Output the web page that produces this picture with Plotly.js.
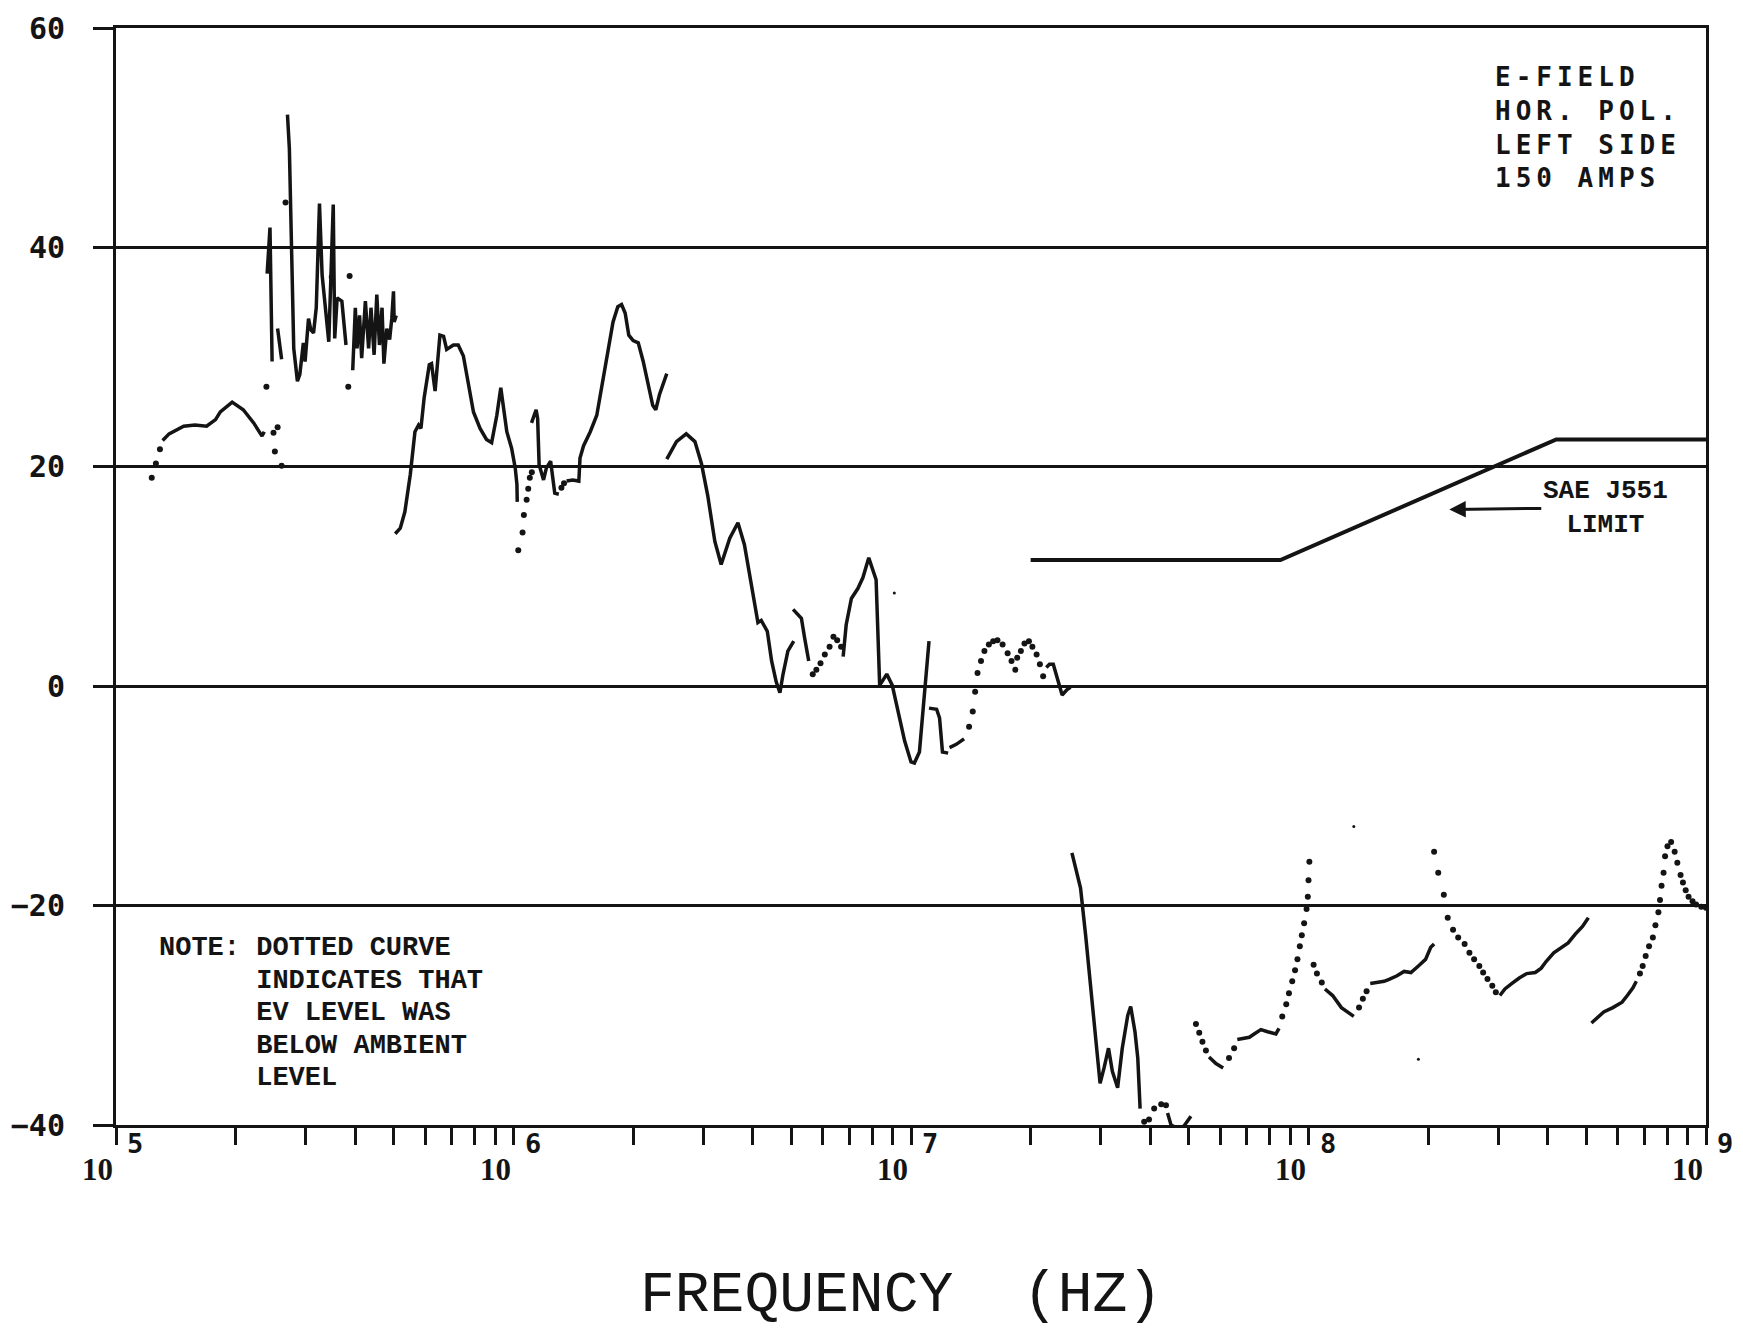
<!DOCTYPE html>
<html>
<head>
<meta charset="utf-8">
<script src="https://cdn.plot.ly/plotly-3.0.1.min.js"></script>
<style>
  html, body { margin: 0; padding: 0; background: #ffffff; }
  #chart { width: 1743px; height: 1332px; }
</style>
</head>
<body>
<div id="chart"></div>
<script>
// E-field emission sweep, horizontal polarisation, left side, 150 A.
// Frequencies in Hz, levels in dB. Solid runs are measured EV levels,
// dotted runs are readings that fell below the ambient level.

// ---- solid runs ----
const run01Hz = [1.31e5, 1.36e5, 1.48e5, 1.58e5, 1.69e5, 1.78e5, 1.83e5, 1.96e5, 2.09e5, 2.22e5, 2.33e5, 2.36e5];
const run01Db = [22.4, 23.0, 23.7, 23.8, 23.7, 24.3, 25.0, 25.9, 25.2, 24.0, 22.8, 23.2];
const run02Hz = [2.40e5, 2.44e5, 2.47e5];
const run02Db = [37.6, 41.8, 29.6];
const run03Hz = [2.55e5, 2.61e5];
const run03Db = [32.6, 29.8];
const run04Hz = [2.70e5, 2.73e5, 2.80e5, 2.86e5, 2.90e5, 2.96e5, 2.99e5, 3.05e5, 3.09e5, 3.14e5, 3.19e5, 3.25e5, 3.30e5, 3.43e5, 3.52e5, 3.55e5, 3.60e5, 3.70e5, 3.79e5];
const run04Db = [52.1, 49.0, 30.8, 27.8, 28.4, 31.3, 29.6, 33.5, 32.5, 32.2, 34.5, 44.0, 37.5, 31.4, 43.9, 31.7, 35.4, 35.1, 31.1];
const run05Hz = [3.94e5, 4.00e5, 4.04e5, 4.10e5, 4.15e5, 4.24e5, 4.32e5, 4.38e5, 4.46e5, 4.53e5, 4.60e5, 4.67e5, 4.72e5, 4.80e5, 4.88e5, 4.94e5, 4.99e5, 5.01e5, 5.07e5];
const run05Db = [28.8, 34.5, 30.8, 33.8, 29.9, 35.1, 30.8, 34.5, 30.2, 35.7, 31.1, 34.5, 29.4, 32.6, 31.6, 33.5, 36.0, 33.2, 33.8];
const run06Hz = [5.04e5, 5.19e5, 5.33e5, 5.50e5, 5.65e5, 5.77e5, 5.85e5, 5.96e5, 6.14e5, 6.22e5, 6.35e5, 6.43e5, 6.53e5, 6.67e5, 6.79e5, 7.06e5, 7.26e5, 7.48e5, 7.69e5, 7.93e5, 8.24e5, 8.55e5, 8.81e5, 9.08e5, 9.29e5, 9.46e5, 9.62e5, 9.89e5, 1.01e6, 1.02e6, 1.022e6];
const run06Db = [13.9, 14.4, 15.9, 19.3, 23.2, 23.8, 23.5, 26.3, 29.3, 29.4, 26.9, 29.3, 32.0, 31.9, 30.7, 31.1, 31.1, 30.1, 27.5, 25.0, 23.5, 22.5, 22.2, 24.7, 27.2, 25.0, 23.2, 21.7, 19.9, 18.4, 16.8];
const run07Hz = [1.11e6, 1.14e6, 1.15e6, 1.16e6, 1.19e6, 1.21e6, 1.24e6, 1.25e6, 1.27e6, 1.30e6];
const run07Db = [24.0, 25.2, 24.4, 20.2, 18.8, 19.9, 20.5, 19.6, 17.6, 17.5];
const run08Hz = [1.36e6, 1.41e6, 1.46e6, 1.47e6, 1.50e6, 1.56e6, 1.62e6, 1.68e6, 1.73e6, 1.78e6, 1.83e6, 1.87e6, 1.91e6, 1.95e6, 2.00e6, 2.06e6, 2.12e6, 2.18e6, 2.24e6, 2.28e6, 2.33e6, 2.43e6];
const run08Db = [18.7, 18.8, 18.7, 20.8, 21.9, 23.2, 24.7, 27.9, 30.8, 33.2, 34.6, 34.8, 34.0, 32.0, 31.5, 31.3, 29.6, 27.5, 25.6, 25.2, 26.6, 28.5];
const run09Hz = [2.43e6, 2.57e6, 2.72e6, 2.86e6, 2.97e6, 3.08e6, 3.21e6, 3.33e6, 3.50e6, 3.67e6, 3.81e6, 3.93e6, 4.01e6, 4.12e6, 4.20e6, 4.35e6, 4.46e6, 4.58e6, 4.68e6, 4.76e6, 4.90e6, 5.07e6];
const run09Db = [20.7, 22.3, 23.0, 22.3, 20.3, 17.4, 13.2, 11.1, 13.5, 14.9, 12.9, 10.2, 8.0, 5.8, 6.0, 5.0, 2.3, 0.4, -0.6, 1.0, 3.2, 4.1];
const run10Hz = [5.05e6, 5.30e6, 5.40e6, 5.53e6];
const run10Db = [7.0, 6.2, 4.4, 2.3];
const run11Hz = [6.75e6, 6.87e6, 7.08e6, 7.35e6, 7.57e6, 7.83e6, 8.17e6, 8.34e6, 8.45e6, 8.69e6, 8.97e6, 9.27e6, 9.64e6, 1.00e7, 1.02e7, 1.05e7, 1.07e7, 1.09e7, 1.11e7];
const run11Db = [2.7, 5.6, 8.0, 8.9, 9.9, 11.7, 9.7, 0.1, 0.4, 1.1, 0.1, -2.2, -5.0, -6.9, -7.0, -6.0, -2.6, 0.7, 4.1];
const run12Hz = [1.11e7, 1.16e7, 1.18e7, 1.20e7, 1.24e7];
const run12Db = [-2.0, -2.1, -2.9, -6.0, -6.1];
const run13Hz = [1.25e7, 1.30e7, 1.36e7];
const run13Db = [-5.6, -5.3, -4.8];
const run14Hz = [2.19e7, 2.23e7, 2.28e7, 2.32e7, 2.36e7, 2.40e7, 2.47e7, 2.52e7];
const run14Db = [1.7, 2.0, 2.0, 1.0, 0.1, -0.8, -0.3, -0.1];
const run15Hz = [2.54e7, 2.67e7, 2.75e7, 2.84e7, 2.92e7, 2.99e7, 3.06e7, 3.14e7, 3.21e7, 3.31e7, 3.40e7, 3.51e7, 3.57e7, 3.66e7, 3.72e7, 3.77e7];
const run15Db = [-15.2, -18.4, -22.7, -27.8, -32.7, -36.2, -34.8, -33.0, -35.1, -36.6, -33.0, -30.0, -29.2, -31.5, -33.9, -38.5];
const run16Hz = [4.42e7, 4.51e7, 4.68e7, 4.86e7, 5.06e7];
const run16Db = [-38.9, -40.0, -40.3, -40.1, -39.2];
const run17Hz = [5.62e7, 5.85e7, 6.10e7];
const run17Db = [-33.8, -34.4, -34.8];
const run18Hz = [6.62e7, 6.82e7, 7.10e7, 7.30e7, 7.59e7, 7.89e7, 8.28e7, 8.43e7];
const run18Db = [-32.2, -32.1, -32.0, -31.7, -31.3, -31.5, -31.7, -31.2];
const run19Hz = [1.10e8, 1.15e8, 1.21e8, 1.26e8, 1.30e8];
const run19Db = [-27.6, -28.2, -29.3, -29.8, -30.1];
const run20Hz = [1.43e8, 1.49e8, 1.55e8, 1.60e8, 1.67e8, 1.74e8, 1.81e8, 1.89e8, 1.97e8, 2.03e8, 2.07e8];
const run20Db = [-27.1, -27.0, -26.9, -26.7, -26.4, -26.0, -26.1, -25.5, -24.9, -23.8, -23.5];
const run21Hz = [3.03e8, 3.12e8, 3.25e8, 3.39e8, 3.54e8, 3.72e8, 3.85e8, 3.96e8, 4.14e8, 4.32e8, 4.50e8, 4.69e8, 4.89e8, 5.06e8];
const run21Db = [-28.2, -27.6, -27.1, -26.6, -26.2, -26.1, -25.7, -25.1, -24.3, -23.8, -23.4, -22.6, -21.9, -21.1];
const run22Hz = [5.15e8, 5.31e8, 5.53e8, 5.83e8, 6.15e8, 6.34e8, 6.55e8, 6.68e8];
const run22Db = [-30.7, -30.3, -29.7, -29.3, -28.8, -28.2, -27.5, -26.9];

// ---- dotted runs (below ambient) ----
const dots01Hz = [1.23e5, 1.26e5, 1.29e5];
const dots01Db = [19.0, 20.3, 21.6];
const dots02Hz = [2.39e5, 2.49e5, 2.51e5, 2.55e5, 2.61e5, 2.67e5, 3.49e5, 3.84e5, 3.87e5];
const dots02Db = [27.3, 23.1, 21.4, 23.6, 20.1, 44.1, 37.3, 27.3, 37.4];
const dots03Hz = [1.028e6, 1.054e6, 1.062e6, 1.079e6, 1.089e6, 1.099e6, 1.112e6];
const dots03Db = [12.4, 14.0, 15.6, 17.0, 18.0, 19.0, 19.5];
const dots04Hz = [1.32e6, 1.34e6];
const dots04Db = [18.1, 18.5];
const dots05Hz = [5.66e6, 5.78e6, 5.92e6, 6.07e6, 6.24e6, 6.38e6, 6.52e6, 6.67e6];
const dots05Db = [1.1, 1.5, 2.1, 2.9, 3.6, 4.5, 4.2, 3.6];
const dots06Hz = [1.40e7, 1.43e7, 1.45e7, 1.47e7, 1.50e7, 1.53e7, 1.57e7, 1.61e7, 1.65e7, 1.70e7, 1.75e7, 1.79e7, 1.83e7, 1.85e7, 1.89e7, 1.93e7, 1.98e7, 2.02e7, 2.07e7, 2.11e7, 2.15e7];
const dots06Db = [-3.7, -2.3, -0.5, 1.2, 2.3, 3.2, 3.8, 4.1, 4.2, 3.8, 3.0, 2.3, 1.5, 2.6, 3.2, 3.9, 4.1, 3.6, 2.9, 2.0, 0.9];
const dots07Hz = [3.86e7, 3.97e7, 4.09e7, 4.26e7, 4.38e7];
const dots07Db = [-39.7, -39.5, -38.5, -38.1, -38.2];
const dots08Hz = [5.21e7, 5.31e7, 5.41e7, 5.52e7];
const dots08Db = [-30.8, -31.6, -32.4, -33.2];
const dots09Hz = [6.31e7, 6.50e7];
const dots09Db = [-33.9, -33.0];
const dots10Hz = [8.59e7, 8.79e7, 8.93e7, 9.10e7, 9.25e7, 9.38e7, 9.51e7, 9.62e7, 9.75e7, 9.89e7, 9.96e7, 1.0e8, 1.005e8];
const dots10Db = [-30.1, -29.0, -28.0, -26.9, -25.9, -24.9, -23.7, -22.7, -21.6, -20.3, -19.2, -17.7, -16.0];
const dots11Hz = [1.03e8, 1.05e8, 1.08e8];
const dots11Db = [-25.4, -26.2, -27.0];
const dots12Hz = [1.34e8, 1.37e8, 1.40e8];
const dots12Db = [-29.3, -28.5, -27.8];
const dots13Hz = [2.07e8, 2.12e8, 2.19e8, 2.24e8, 2.31e8, 2.38e8, 2.47e8, 2.54e8, 2.61e8, 2.69e8, 2.75e8, 2.82e8, 2.90e8, 2.96e8];
const dots13Db = [-15.1, -17.0, -19.0, -21.1, -22.2, -22.9, -23.5, -24.3, -24.9, -25.5, -26.1, -26.7, -27.3, -27.9];
const dots14Hz = [6.82e8, 6.93e8, 7.05e8, 7.19e8, 7.35e8, 7.46e8, 7.59e8, 7.66e8, 7.73e8, 7.82e8, 7.89e8, 8.00e8, 8.17e8, 8.34e8, 8.47e8, 8.63e8, 8.75e8, 8.89e8, 9.04e8, 9.25e8, 9.44e8, 9.73e8, 1.0e9];
const dots14Db = [-26.2, -25.5, -24.6, -23.7, -22.9, -21.8, -20.6, -19.5, -18.2, -17.0, -15.5, -14.6, -14.2, -15.1, -16.1, -17.2, -17.9, -18.6, -19.2, -19.6, -19.9, -20.1, -20.2];
const strayHz = [9.08e6, 1.30e8, 1.89e8];
const strayDb = [8.5, -12.8, -34.0];

// ---- SAE J551 limit ----
const limitHz = [2.0e7, 8.5e7, 4.2e8, 1.0e9];
const limitDb = [11.5, 11.5, 22.5, 22.5];

// ---- axis values and labels ----
const levelTicks = [-40, -20, 0, 20, 40, 60];
const decades = [1e5, 1e6, 1e7, 1e8, 1e9];
const decadeExponents = ['5', '6', '7', '8', '9'];
const infoLines = ['E-FIELD', 'HOR. POL.', 'LEFT SIDE', '150 AMPS'];
const noteLines = ['NOTE: DOTTED CURVE', 'INDICATES THAT', 'EV LEVEL WAS', 'BELOW AMBIENT', 'LEVEL'];
const limitLabel = ['SAE J551', 'LIMIT'];
const axisTitle = 'FREQUENCY\u00a0\u00a0(HZ)';

const solidRuns = [
  [run01Hz, run01Db], [run02Hz, run02Db], [run03Hz, run03Db], [run04Hz, run04Db],
  [run05Hz, run05Db], [run06Hz, run06Db], [run07Hz, run07Db], [run08Hz, run08Db],
  [run09Hz, run09Db], [run10Hz, run10Db], [run11Hz, run11Db], [run12Hz, run12Db],
  [run13Hz, run13Db], [run14Hz, run14Db], [run15Hz, run15Db], [run16Hz, run16Db],
  [run17Hz, run17Db], [run18Hz, run18Db], [run19Hz, run19Db], [run20Hz, run20Db],
  [run21Hz, run21Db], [run22Hz, run22Db]
];
const dottedRuns = [
  [dots01Hz, dots01Db], [dots02Hz, dots02Db], [dots03Hz, dots03Db], [dots04Hz, dots04Db],
  [dots05Hz, dots05Db], [dots06Hz, dots06Db], [dots07Hz, dots07Db], [dots08Hz, dots08Db],
  [dots09Hz, dots09Db], [dots10Hz, dots10Db], [dots11Hz, dots11Db], [dots12Hz, dots12Db],
  [dots13Hz, dots13Db], [dots14Hz, dots14Db]
];

const INK = '#141414';
const traces = [];

solidRuns.forEach(function (r) {
  traces.push({
    x: r[0], y: r[1], type: 'scatter', mode: 'lines',
    line: { color: INK, width: 3.5 }, hoverinfo: 'skip', showlegend: false
  });
});
dottedRuns.forEach(function (r) {
  traces.push({
    x: r[0], y: r[1], type: 'scatter', mode: 'markers',
    marker: { color: INK, size: 6 }, cliponaxis: false, hoverinfo: 'skip', showlegend: false
  });
});
traces.push({
  x: strayHz, y: strayDb, type: 'scatter', mode: 'markers',
  marker: { color: INK, size: 3 }, hoverinfo: 'skip', showlegend: false
});
traces.push({
  x: limitHz, y: limitDb, type: 'scatter', mode: 'lines',
  line: { color: INK, width: 4 }, hoverinfo: 'skip', showlegend: false
});

// tick marks at every 1..9 multiple of each decade
const logTicks = [];
decades.forEach(function (d, i) {
  logTicks.push(d);
  if (i < decades.length - 1) {
    for (let m = 2; m <= 9; m++) logTicks.push(m * d);
  }
});

// vertical rules at the decades
const shapes = decades.slice(1, -1).map(function (d) {
  return {
    type: 'line', xref: 'x', yref: 'paper',
    x0: Math.log10(d), x1: Math.log10(d), y0: 0, y1: 1,
    line: { color: INK, width: 2.5 }, layer: 'below'
  };
});

const annotations = [];

// decade labels: "10" with the exponent raised to the right of the tick
decades.forEach(function (d, i) {
  annotations.push({
    xref: 'x', yref: 'paper', x: Math.log10(d), y: 0,
    text: '10', showarrow: false, xanchor: 'right', yanchor: 'middle',
    xshift: -1, yshift: -44,
    font: { family: 'Liberation Serif', size: 31, color: INK, weight: 'bold' }
  });
  annotations.push({
    xref: 'x', yref: 'paper', x: Math.log10(d), y: 0,
    text: decadeExponents[i], showarrow: false, xanchor: 'left', yanchor: 'middle',
    xshift: 9, yshift: -18,
    font: { family: 'DejaVu Sans Mono', size: 27, color: INK, weight: 'bold' }
  });
});

// axis title
annotations.push({
  xref: 'paper', yref: 'paper', x: 0.494, y: 0,
  text: axisTitle, showarrow: false, xanchor: 'center', yanchor: 'middle', yshift: -170,
  font: { family: 'Liberation Mono', size: 58, color: INK }
});

// test conditions block, top right
annotations.push({
  xref: 'paper', yref: 'paper', x: 0.866, y: 1,
  text: infoLines.join('<br>'), align: 'left', showarrow: false,
  xanchor: 'left', yanchor: 'middle', yshift: -99,
  font: { family: 'DejaVu Sans Mono', size: 26, color: INK, weight: 'bold' }
});

// note block, bottom left (continuation lines indented under "DOTTED")
const indent = '\u00a0\u00a0\u00a0\u00a0\u00a0\u00a0';
noteLines.forEach(function (t, i) {
  annotations.push({
    xref: 'paper', yref: 'paper', x: 0.0256, y: 0,
    text: (i === 0 ? '' : indent) + t, showarrow: false, xanchor: 'left', yanchor: 'middle',
    yshift: 177 - 32.5 * i,
    font: { family: 'Liberation Mono', size: 27, color: INK, weight: 'bold' }
  });
});

// limit label with arrow pointing at the limit line
annotations.push({
  xref: 'x', yref: 'y', x: Math.log10(2.26e8), y: 16.1,
  text: limitLabel.join('<br>'), align: 'center',
  showarrow: true, arrowhead: 2, arrowsize: 1.1, arrowwidth: 3, arrowcolor: INK,
  ax: 156, ay: -2, standoff: 0,
  font: { family: 'Liberation Mono', size: 26, color: INK, weight: 'bold' }
});

const layout = {
  width: 1743, height: 1332,
  margin: { l: 116, r: 37, t: 28, b: 207, pad: 0 },
  paper_bgcolor: '#ffffff', plot_bgcolor: '#ffffff',
  showlegend: false,
  xaxis: {
    type: 'log', range: [5, 9], autorange: false,
    tickmode: 'array', tickvals: logTicks, showticklabels: false,
    ticks: 'outside', ticklen: 17, tickwidth: 3, tickcolor: INK,
    showgrid: false, zeroline: false,
    showline: true, linecolor: INK, linewidth: 3, mirror: true,
    fixedrange: true
  },
  yaxis: {
    range: [-40, 60], autorange: false,
    tickmode: 'array', tickvals: levelTicks,
    ticks: 'outside', ticklen: 20, tickwidth: 3, tickcolor: INK,
    ticklabelstandoff: 22,
    tickfont: { family: 'DejaVu Sans Mono', size: 30, color: INK, weight: 'bold' },
    showgrid: true, gridcolor: INK, gridwidth: 3, zeroline: false,
    showline: true, linecolor: INK, linewidth: 3, mirror: true,
    fixedrange: true
  },
  shapes: shapes,
  annotations: annotations
};

Plotly.newPlot('chart', traces, layout, { staticPlot: true, displayModeBar: false }).then(function (gd) {
  // the plotter lettering of the conditions block is widely spaced
  gd.querySelectorAll('.annotation-text').forEach(function (el) {
    if (el.textContent.indexOf(infoLines[0]) === 0) el.style.letterSpacing = '5px';
  });
});
</script>
</body>
</html>
